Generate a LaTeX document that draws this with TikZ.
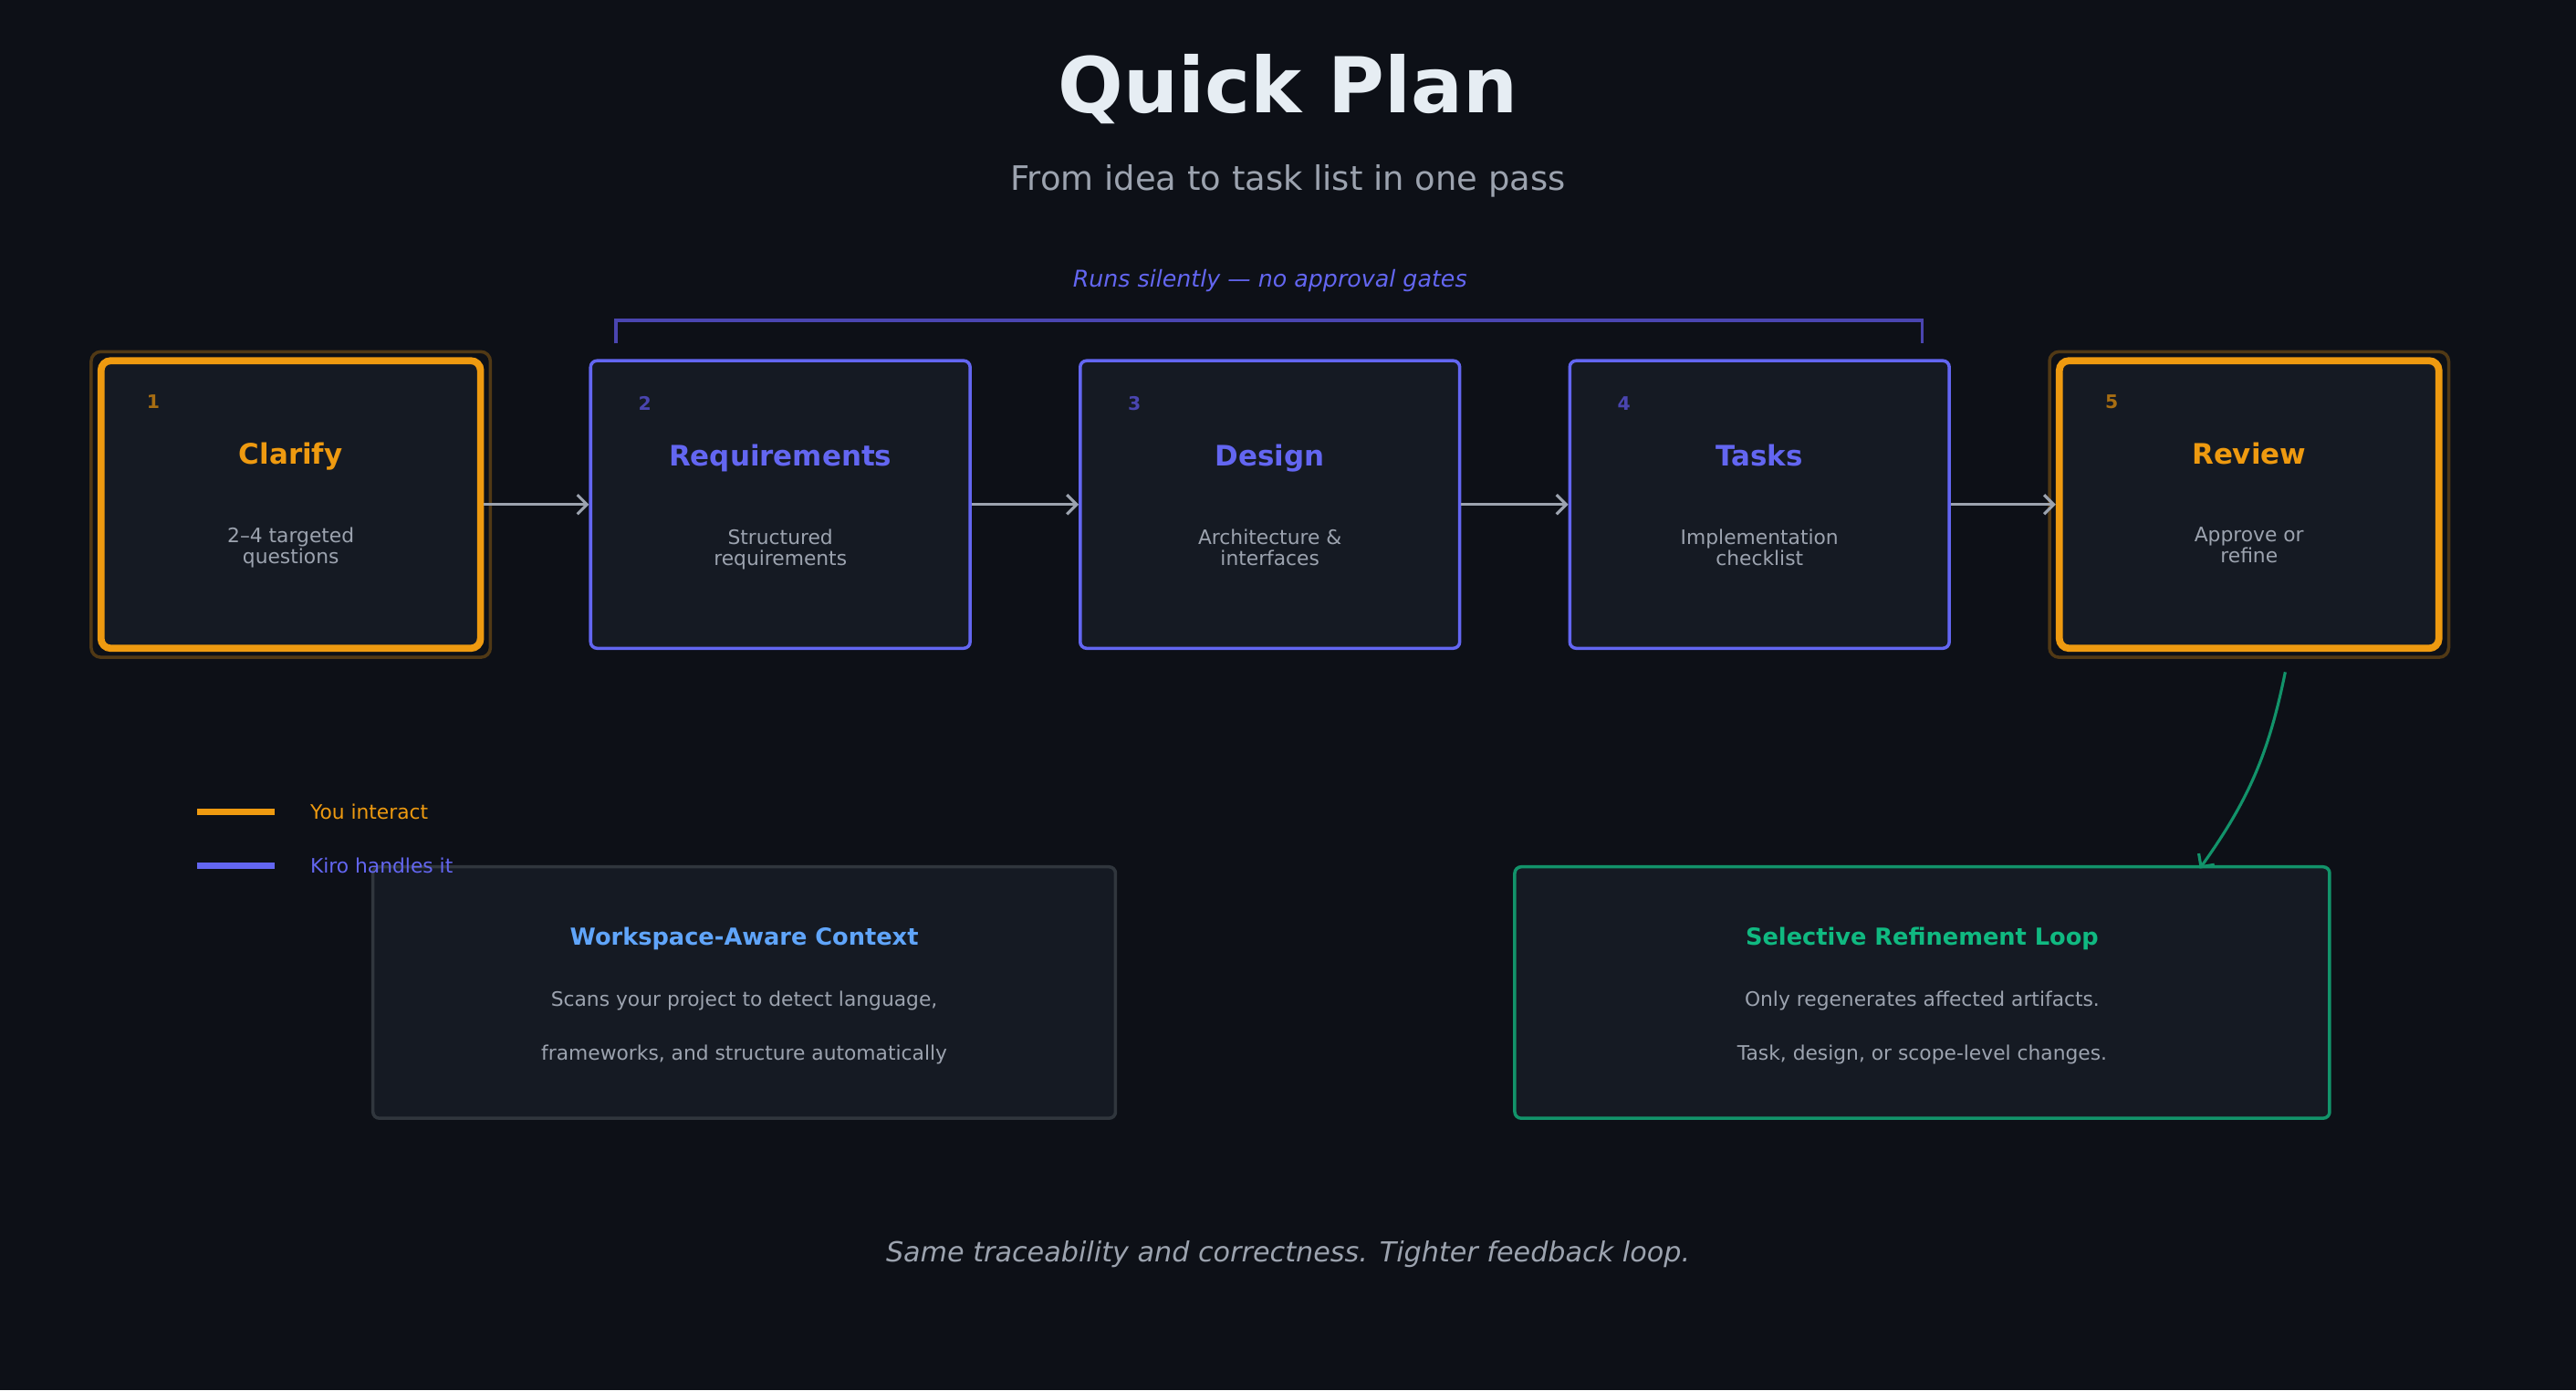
\documentclass[tikz,border=0pt]{standalone}
\usepackage{fontspec}
\setmainfont{DejaVu Sans}
\usetikzlibrary{positioning,arrows.meta}
\definecolor{bg}{HTML}{0D1017}
\definecolor{card}{HTML}{151A23}
\definecolor{amber}{HTML}{EE9A10}
\definecolor{indigo}{HTML}{6366F1}
\definecolor{indigodim}{HTML}{4A45B0}
\definecolor{amberdim}{HTML}{A86E12}
\definecolor{muted}{HTML}{9CA3AF}
\definecolor{green}{HTML}{10B981}
\definecolor{greenline}{HTML}{12936A}
\definecolor{edge}{HTML}{30363D}
\definecolor{sky}{HTML}{60A5FA}
\definecolor{bright}{HTML}{E6EDF3}
\begin{document}
\begin{tikzpicture}[x=0.018cm,y=-0.018cm,
        user/.style={rectangle, rounded corners=3pt, draw=amber, fill=card, line width=2.2pt, minimum width=231*0.018cm, minimum height=175*0.018cm},
        kiro/.style={rectangle, rounded corners=2pt, draw=indigo, fill=card, line width=1pt, minimum width=231*0.018cm, minimum height=175*0.018cm},
        glow/.style={rectangle, rounded corners=3pt, draw=amber!30!bg, line width=1pt, minimum width=243*0.018cm, minimum height=186*0.018cm},
        info/.style={rectangle, rounded corners=2pt, fill=card, line width=1pt, minimum height=153*0.018cm},
        steptitle/.style={font=\bfseries\fontsize{8.8}{10}\selectfont, anchor=base},
        stepnum/.style={font=\bfseries\fontsize{5.8}{7}\selectfont, anchor=base},
        stepdesc/.style={font=\fontsize{6.2}{6.6}\selectfont, text=muted, align=center, anchor=north, inner sep=0pt},
        flow/.style={-{Straight Barb[length=3pt]}, draw=muted, line width=0.9pt},
    ]
        \fill[bg] (0,0) rectangle (1568,846);

        %Titles
        \node[text=bright, font=\bfseries\fontsize{24}{28}\selectfont] (title) at (784,54) {Quick Plan};
        \node[text=muted, font=\fontsize{10.5}{12}\selectfont] (subtitle) at (784,110) {From idea to task list in one pass};
        \node[text=indigo, font=\itshape\fontsize{7.2}{9}\selectfont] (silent) at (773,171) {Runs silently — no approval gates};

        %Nodes
        \node[glow] (clarifyGlow) at (177,307) {};
        \node[glow] (reviewGlow) at (1369,307) {};
        \node[user] (clarify) at (177,307) {};
        \node[kiro] (req) at (475,307) {};
        \node[kiro] (design) at (773,307) {};
        \node[kiro] (tasks) at (1071,307) {};
        \node[user] (review) at (1369,307) {};

        \foreach \n/\num/\t/\d/\c/\cn in {clarify/1/Clarify/{2–4 targeted\\questions}/amber/amberdim,
                req/2/Requirements/{Structured\\requirements}/indigo/indigodim,
                design/3/Design/{Architecture \&\\interfaces}/indigo/indigodim,
                tasks/4/Tasks/{Implementation\\checklist}/indigo/indigodim,
                review/5/Review/{Approve or\\refine}/amber/amberdim}{
            \node[stepnum, text=\cn] (\n Num) at ([xshift=34*0.018cm, yshift=-31*0.018cm]\n.north west) {\num};
            \node[steptitle, text=\c] (\n Title) at ([yshift=-65*0.018cm]\n.north) {\t};
            \node[stepdesc] (\n Desc) at ([yshift=-103*0.018cm]\n.north) {\d};
        }

        \coordinate (bracketL) at (375,209);
        \coordinate (bracketR) at (1170,209);
        \node[info, draw=edge, minimum width=452*0.018cm] (context) at (453,604) {};
        \node[info, draw=greenline, minimum width=496*0.018cm] (refine) at (1170,604) {};
        \node[text=sky, font=\bfseries\fontsize{7.3}{9}\selectfont] (contextTitle) at (453,571) {Workspace-Aware Context};
        \node[text=muted, font=\fontsize{6.2}{8}\selectfont] (contextA) at (453,609) {Scans your project to detect language,};
        \node[text=muted, font=\fontsize{6.2}{8}\selectfont] (contextB) at (453,642) {frameworks, and structure automatically};
        \node[text=green, font=\bfseries\fontsize{7.3}{9}\selectfont] (refineTitle) at (1170,571) {Selective Refinement Loop};
        \node[text=muted, font=\fontsize{6.2}{8}\selectfont] (refineA) at (1170,609) {Only regenerates affected artifacts.};
        \node[text=muted, font=\fontsize{6.2}{8}\selectfont] (refineB) at (1170,642) {Task, design, or scope-level changes.};

        %Legend
        \coordinate (userA) at (120,494);
        \coordinate (userB) at (167,494);
        \coordinate (kiroA) at (120,527);
        \coordinate (kiroB) at (167,527);
        \node[text=amber, anchor=west, font=\fontsize{6.2}{8}\selectfont] (userKey) at (182,494) {You interact};
        \node[text=indigo, anchor=west, font=\fontsize{6.2}{8}\selectfont] (kiroKey) at (182,527) {Kiro handles it};

        \node[text=muted, font=\itshape\fontsize{8.6}{10}\selectfont] (footer) at (784,763) {Same traceability and correctness. Tighter feedback loop.};

        %Lines
        \draw[flow] (clarify) -- (req);
        \draw[flow] (req) -- (design);
        \draw[flow] (design) -- (tasks);
        \draw[flow] (tasks) -- (review);
        \draw[indigodim, line width=1.1pt] (bracketL) -- ++(0,-14) -| (bracketR);
        \draw[amber, line width=2pt] (userA) -- (userB);
        \draw[indigo, line width=2pt] (kiroA) -- (kiroB);
        \draw[greenline, line width=0.9pt, -{Straight Barb[length=3pt]}] ([xshift=22*0.018cm, yshift=-8*0.018cm]reviewGlow.south) to[bend left=12] ([xshift=169*0.018cm, yshift=-2*0.018cm]refine.north);
    \end{tikzpicture}
\end{document}
